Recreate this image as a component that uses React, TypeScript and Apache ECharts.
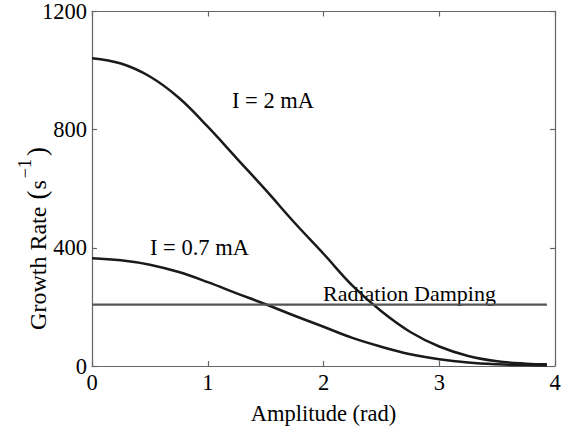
import React, { useEffect, useRef } from "react";
import * as echarts from "echarts";

const amplitude = [0, 0.25, 0.5, 0.75, 1.0, 1.25, 1.5, 1.75, 2.0, 2.25, 2.5, 2.75, 3.0, 3.25, 3.5, 3.75, 3.93];
const rate2mA = [1042, 1024, 980, 908, 810, 703, 596, 485, 380, 272, 185, 115, 66, 34, 16, 8, 6];
const rate07mA = [365, 358, 343, 318, 284, 246, 209, 170, 133, 95, 65, 40, 23, 12, 6, 3, 2];
const dampingX = [0, 3.93];
const dampingY = [208, 208];
const xTicks = [0, 1, 2, 3, 4];
const yTicks = [0, 400, 800, 1200];

const FONT = "Liberation Serif";
const FS = 22.5;

const mkLine = () => ({ show: true, onZero: false, lineStyle: { color: "#666", width: 1.2 } });
const mkTick = () => ({ show: true, inside: true, length: 5, lineStyle: { color: "#666", width: 1.2 } });

export default function App() {
  const ref = useRef<HTMLDivElement>(null);
  useEffect(() => {
    if (!ref.current) return;
    const chart = echarts.init(ref.current, null, { renderer: "svg" });
    chart.setOption({
      animation: false,
      backgroundColor: "#fff",
      grid: { left: 92, right: 11, top: 11, bottom: 55, containLabel: false },
      xAxis: [
        {
          type: "value",
          position: "bottom",
          min: 0,
          max: 4,
          interval: 1,
          axisLine: mkLine(),
          axisTick: mkTick(),
          splitLine: { show: false },
          axisLabel: {
            color: "#000",
            fontFamily: FONT,
            fontSize: FS,
            margin: 5,
            formatter: (v: number) => (xTicks.includes(v) ? String(v) : ""),
          },
          name: "Amplitude (rad)",
          nameLocation: "middle",
          nameGap: 36,
          nameTextStyle: { color: "#000", fontFamily: FONT, fontSize: FS },
        },
        {
          type: "value",
          position: "top",
          min: 0,
          max: 4,
          interval: 1,
          axisLine: mkLine(),
          axisTick: mkTick(),
          splitLine: { show: false },
          axisLabel: { show: false },
        },
      ],
      yAxis: [
        {
          type: "value",
          position: "left",
          min: 0,
          max: 1200,
          interval: 400,
          axisLine: mkLine(),
          axisTick: mkTick(),
          splitLine: { show: false },
          axisLabel: {
            color: "#000",
            fontFamily: FONT,
            fontSize: FS,
            margin: 5,
            formatter: (v: number) => (yTicks.includes(v) ? String(v) : ""),
          },
        },
        {
          type: "value",
          position: "right",
          min: 0,
          max: 1200,
          interval: 400,
          axisLine: mkLine(),
          axisTick: mkTick(),
          splitLine: { show: false },
          axisLabel: { show: false },
        },
      ],
      series: [
        {
          type: "line",
          data: amplitude.map((x, i) => [x, rate2mA[i]]),
          smooth: 0.4,
          showSymbol: false,
          lineStyle: { color: "#1a1a1a", width: 2.5 },
        },
        {
          type: "line",
          data: amplitude.map((x, i) => [x, rate07mA[i]]),
          smooth: 0.4,
          showSymbol: false,
          lineStyle: { color: "#1a1a1a", width: 2.5 },
        },
        {
          type: "line",
          data: dampingX.map((x, i) => [x, dampingY[i]]),
          showSymbol: false,
          lineStyle: { color: "#555", width: 2.2 },
        },
      ],
      graphic: [
        {
          type: "text",
          x: 33,
          y: 238,
          rotation: Math.PI / 2,
          style: {
            text: "{m|Growth Rate }{p|(}{m|s}{s|−1}{p|)}",
            fill: "#000",
            align: "center",
            verticalAlign: "middle",
            rich: {
              m: { fontFamily: FONT, fontSize: 24, lineHeight: 34, verticalAlign: "bottom", fill: "#000" },
              p: { fontFamily: FONT, fontSize: 27, lineHeight: 34, verticalAlign: "bottom", fill: "#000", padding: [0, 1, 0, 1] },
              s: { fontFamily: FONT, fontSize: 18, lineHeight: 34, verticalAlign: "top", fill: "#000", padding: [0, 2, 0, 2] },
            },
          },
        },
        {
          type: "text",
          left: 232,
          top: 89,
          style: { text: "I = 2 mA", fill: "#000", font: `${FS}px "${FONT}"` },
        },
        {
          type: "text",
          left: 150,
          top: 236,
          style: { text: "I = 0.7 mA", fill: "#000", font: `${FS}px "${FONT}"` },
        },
        {
          type: "text",
          left: 323,
          top: 282,
          style: { text: "Radiation Damping", fill: "#000", font: `22px "${FONT}"` },
        },
      ],
    });
    return () => chart.dispose();
  }, []);
  return <div ref={ref} style={{ width: 566, height: 430, position: "absolute", left: 0, top: 0 }} />;
}
